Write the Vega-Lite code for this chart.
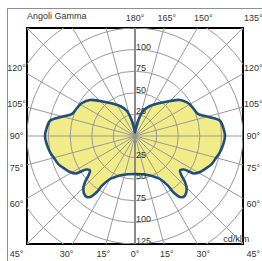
{
  "$schema": "https://vega.github.io/schema/vega-lite/v6.json",
  "width": 216,
  "height": 216,
  "autosize": "none",
  "padding": {"left": 27, "top": 28, "right": 19, "bottom": 17},
  "background": "white",
  "config": {"view": {"stroke": "#000000", "strokeWidth": 2}, "font": "Liberation Sans"},
  "datasets": {
    "curve": [
      {"i": 0, "g": 0, "cd": 44},
      {"i": 1, "g": 10, "cd": 45},
      {"i": 2, "g": 21, "cd": 49},
      {"i": 3, "g": 27, "cd": 54},
      {"i": 4, "g": 30.2, "cd": 57.6},
      {"i": 5, "g": 33.6, "cd": 69},
      {"i": 6, "g": 34.2, "cd": 78},
      {"i": 7, "g": 36.4, "cd": 87.7},
      {"i": 8, "g": 40, "cd": 90},
      {"i": 9, "g": 44.3, "cd": 85.7},
      {"i": 10, "g": 47.4, "cd": 78.6},
      {"i": 11, "g": 49.6, "cd": 70.9},
      {"i": 12, "g": 52.5, "cd": 65.6},
      {"i": 13, "g": 55.6, "cd": 68.7},
      {"i": 14, "g": 56.7, "cd": 74.8},
      {"i": 15, "g": 57.6, "cd": 80.9},
      {"i": 16, "g": 61, "cd": 86},
      {"i": 17, "g": 64.8, "cd": 89.6},
      {"i": 18, "g": 69.9, "cd": 94.5},
      {"i": 19, "g": 74.8, "cd": 97.1},
      {"i": 20, "g": 79.3, "cd": 100.1},
      {"i": 21, "g": 84.8, "cd": 102.6},
      {"i": 22, "g": 90, "cd": 104.2},
      {"i": 23, "g": 95.5, "cd": 102.5},
      {"i": 24, "g": 100.2, "cd": 100},
      {"i": 25, "g": 103, "cd": 92.6},
      {"i": 26, "g": 106, "cd": 84.3},
      {"i": 27, "g": 109.3, "cd": 77.2},
      {"i": 28, "g": 115.8, "cd": 74.5},
      {"i": 29, "g": 121.9, "cd": 72.3},
      {"i": 30, "g": 128.7, "cd": 66.7},
      {"i": 31, "g": 135, "cd": 57.3},
      {"i": 32, "g": 142.9, "cd": 47.9},
      {"i": 33, "g": 153.4, "cd": 38.8},
      {"i": 34, "g": 162.3, "cd": 30.4},
      {"i": 35, "g": 168.7, "cd": 17.7},
      {"i": 36, "g": 175, "cd": 8},
      {"i": 37, "g": 180, "cd": 4},
      {"i": 38, "g": -175, "cd": 8},
      {"i": 39, "g": -168.7, "cd": 17.7},
      {"i": 40, "g": -162.3, "cd": 30.4},
      {"i": 41, "g": -153.4, "cd": 38.8},
      {"i": 42, "g": -142.9, "cd": 47.9},
      {"i": 43, "g": -135, "cd": 57.3},
      {"i": 44, "g": -128.7, "cd": 66.7},
      {"i": 45, "g": -121.9, "cd": 72.3},
      {"i": 46, "g": -115.8, "cd": 74.5},
      {"i": 47, "g": -109.3, "cd": 77.2},
      {"i": 48, "g": -106, "cd": 84.3},
      {"i": 49, "g": -103, "cd": 92.6},
      {"i": 50, "g": -100.2, "cd": 100},
      {"i": 51, "g": -95.5, "cd": 102.5},
      {"i": 52, "g": -90, "cd": 104.2},
      {"i": 53, "g": -84.8, "cd": 102.6},
      {"i": 54, "g": -79.3, "cd": 100.1},
      {"i": 55, "g": -74.8, "cd": 97.1},
      {"i": 56, "g": -69.9, "cd": 94.5},
      {"i": 57, "g": -64.8, "cd": 89.6},
      {"i": 58, "g": -61, "cd": 86},
      {"i": 59, "g": -57.6, "cd": 80.9},
      {"i": 60, "g": -56.7, "cd": 74.8},
      {"i": 61, "g": -55.6, "cd": 68.7},
      {"i": 62, "g": -52.5, "cd": 65.6},
      {"i": 63, "g": -49.6, "cd": 70.9},
      {"i": 64, "g": -47.4, "cd": 78.6},
      {"i": 65, "g": -44.3, "cd": 85.7},
      {"i": 66, "g": -40, "cd": 90},
      {"i": 67, "g": -36.4, "cd": 87.7},
      {"i": 68, "g": -34.2, "cd": 78},
      {"i": 69, "g": -33.6, "cd": 69},
      {"i": 70, "g": -30.2, "cd": 57.6},
      {"i": 71, "g": -27, "cd": 54},
      {"i": 72, "g": -21, "cd": 49},
      {"i": 73, "g": -10, "cd": 45}
    ],
    "rings": [{"r": 25}, {"r": 50}, {"r": 75}, {"r": 100}, {"r": 125}, {"r": 150}, {"r": 175}],
    "spokes": [
      {"g": 0}, {"g": 15}, {"g": 30}, {"g": 45}, {"g": 60}, {"g": 75}, {"g": 90}, {"g": 105},
      {"g": 120}, {"g": 135}, {"g": 150}, {"g": 165}, {"g": 180}, {"g": 195}, {"g": 210}, {"g": 225},
      {"g": 240}, {"g": 255}, {"g": 270}, {"g": 285}, {"g": 300}, {"g": 315}, {"g": 330}, {"g": 345}
    ],
    "rlabels": [
      {"v": 25, "label": "25"}, {"v": 50, "label": "50"}, {"v": 75, "label": "75"}, {"v": 100, "label": "100"},
      {"v": -25, "label": "25"}, {"v": -50, "label": "50"}, {"v": -75, "label": "75"}, {"v": -100, "label": "100"}, {"v": -125, "label": "125"}
    ],
    "alabels": [
      {"g": 180, "label": "180°"}, {"g": 165, "label": "165°"}, {"g": 150, "label": "150°"}, {"g": 135, "label": "135°"},
      {"g": 120, "label": "120°"}, {"g": 105, "label": "105°"}, {"g": 90, "label": "90°"}, {"g": 75, "label": "75°"}, {"g": 60, "label": "60°"}, {"g": 45, "label": "45°"},
      {"g": -120, "label": "120°"}, {"g": -105, "label": "105°"}, {"g": -90, "label": "90°"}, {"g": -75, "label": "75°"}, {"g": -60, "label": "60°"}, {"g": -45, "label": "45°"},
      {"g": 30, "label": "30°"}, {"g": 15, "label": "15°"}, {"g": 0, "label": "0°"}, {"g": -15, "label": "15°"}, {"g": -30, "label": "30°"}
    ],
    "notes": [
      {"label": "Angoli Gamma", "where": "top-left"},
      {"label": "cd/klm", "where": "bottom-right"}
    ],
    "outer": [{"k": 0, "pt": "right end"}, {"k": 1, "pt": "corner"}, {"k": 2, "pt": "bottom end"}]
  },
  "layer": [
    {
      "data": {"name": "outer"},
      "transform": [
        {"calculate": "datum.k == 0 ? 155 : -147.57", "as": "fx"},
        {"calculate": "datum.k == 2 ? -155 : 147.57", "as": "fy"}
      ],
      "mark": {"type": "line", "stroke": "#8f8f8f", "strokeWidth": 1, "clip": false},
      "encoding": {
        "x": {"field": "fx", "type": "quantitative", "scale": {"domain": [-125, 125], "nice": false, "zero": false}, "axis": null},
        "y": {"field": "fy", "type": "quantitative", "scale": {"domain": [-125, 125], "nice": false, "zero": false}, "axis": null},
        "order": {"field": "k", "type": "quantitative"}
      }
    },
    {
      "data": {"name": "curve"},
      "transform": [
        {"calculate": "datum.cd * sin(datum.g * PI / 180)", "as": "x"},
        {"calculate": "-datum.cd * cos(datum.g * PI / 180)", "as": "y"}
      ],
      "mark": {"type": "line", "interpolate": "cardinal-closed", "fill": "#F2EC88", "strokeWidth": 0},
      "encoding": {
        "x": {"field": "x", "type": "quantitative", "scale": {"domain": [-125, 125], "nice": false, "zero": false}, "axis": null},
        "y": {"field": "y", "type": "quantitative", "scale": {"domain": [-125, 125], "nice": false, "zero": false}, "axis": null},
        "order": {"field": "i", "type": "quantitative"}
      }
    },
    {
      "data": {"name": "rings"},
      "transform": [{"calculate": "0", "as": "o"}],
      "mark": {"type": "point", "shape": "circle", "filled": false, "stroke": "#999999", "strokeWidth": 1, "opacity": 1, "clip": true},
      "encoding": {
        "x": {"field": "o", "type": "quantitative", "scale": {"domain": [-125, 125], "nice": false, "zero": false}, "axis": null},
        "y": {"field": "o", "type": "quantitative", "scale": {"domain": [-125, 125], "nice": false, "zero": false}, "axis": null},
        "size": {"field": "r", "type": "quantitative", "scale": {"type": "pow", "exponent": 2, "domain": [0, 125], "range": [0, 46656], "zero": true}, "legend": null}
      }
    },
    {
      "data": {"name": "spokes"},
      "transform": [
        {"calculate": "0", "as": "o"},
        {"calculate": "300 * sin(datum.g * PI / 180)", "as": "xe"},
        {"calculate": "-300 * cos(datum.g * PI / 180)", "as": "ye"},
        {"calculate": "datum.g % 180 == 0 ? 'axis' : 'spoke'", "as": "kind"}
      ],
      "mark": {"type": "rule", "clip": true},
      "encoding": {
        "x": {"field": "o", "type": "quantitative", "scale": {"domain": [-125, 125], "nice": false, "zero": false}, "axis": null},
        "y": {"field": "o", "type": "quantitative", "scale": {"domain": [-125, 125], "nice": false, "zero": false}, "axis": null},
        "x2": {"field": "xe"},
        "y2": {"field": "ye"},
        "color": {"field": "kind", "type": "nominal", "scale": {"domain": ["axis", "spoke"], "range": ["#8a8a8a", "#999999"]}, "legend": null},
        "strokeWidth": {"field": "kind", "type": "nominal", "scale": {"domain": ["axis", "spoke"], "range": [2, 1]}, "legend": null}
      }
    },
    {
      "data": {"name": "curve"},
      "transform": [
        {"calculate": "datum.cd * sin(datum.g * PI / 180)", "as": "x"},
        {"calculate": "-datum.cd * cos(datum.g * PI / 180)", "as": "y"}
      ],
      "mark": {"type": "line", "interpolate": "cardinal-closed", "stroke": "#1F4E7C", "strokeWidth": 2.6},
      "encoding": {
        "x": {"field": "x", "type": "quantitative", "scale": {"domain": [-125, 125], "nice": false, "zero": false}, "axis": null},
        "y": {"field": "y", "type": "quantitative", "scale": {"domain": [-125, 125], "nice": false, "zero": false}, "axis": null},
        "order": {"field": "i", "type": "quantitative"}
      }
    },
    {
      "data": {"name": "rlabels"},
      "transform": [{"calculate": "0", "as": "o"}],
      "mark": {"type": "text", "align": "left", "baseline": "alphabetic", "dx": 1, "fontSize": 9, "fill": "#333333"},
      "encoding": {
        "x": {"field": "o", "type": "quantitative", "scale": {"domain": [-125, 125], "nice": false, "zero": false}, "axis": null},
        "y": {"field": "v", "type": "quantitative", "scale": {"domain": [-125, 125], "nice": false, "zero": false}, "axis": null},
        "text": {"field": "label", "type": "nominal"}
      }
    },
    {
      "data": {"name": "alabels"},
      "transform": [
        {"calculate": "137 / max(abs(sin(datum.g * PI / 180)), abs(cos(datum.g * PI / 180)))", "as": "t"},
        {"calculate": "datum.t * sin(datum.g * PI / 180)", "as": "x"},
        {"calculate": "-datum.t * cos(datum.g * PI / 180)", "as": "y"}
      ],
      "mark": {"type": "text", "align": "center", "baseline": "middle", "fontSize": 9, "fill": "#333333"},
      "encoding": {
        "x": {"field": "x", "type": "quantitative", "scale": {"domain": [-125, 125], "nice": false, "zero": false}, "axis": null},
        "y": {"field": "y", "type": "quantitative", "scale": {"domain": [-125, 125], "nice": false, "zero": false}, "axis": null},
        "text": {"field": "label", "type": "nominal"}
      }
    },
    {
      "data": {"name": "notes"},
      "transform": [
        {"calculate": "datum.where == 'top-left' ? -125 : 102", "as": "x"},
        {"calculate": "datum.where == 'top-left' ? 138.5 : -119", "as": "y"}
      ],
      "mark": {"type": "text", "align": "left", "baseline": "middle", "fontSize": 9, "fill": "#333333"},
      "encoding": {
        "x": {"field": "x", "type": "quantitative", "scale": {"domain": [-125, 125], "nice": false, "zero": false}, "axis": null},
        "y": {"field": "y", "type": "quantitative", "scale": {"domain": [-125, 125], "nice": false, "zero": false}, "axis": null},
        "text": {"field": "label", "type": "nominal"}
      }
    }
  ]
}
